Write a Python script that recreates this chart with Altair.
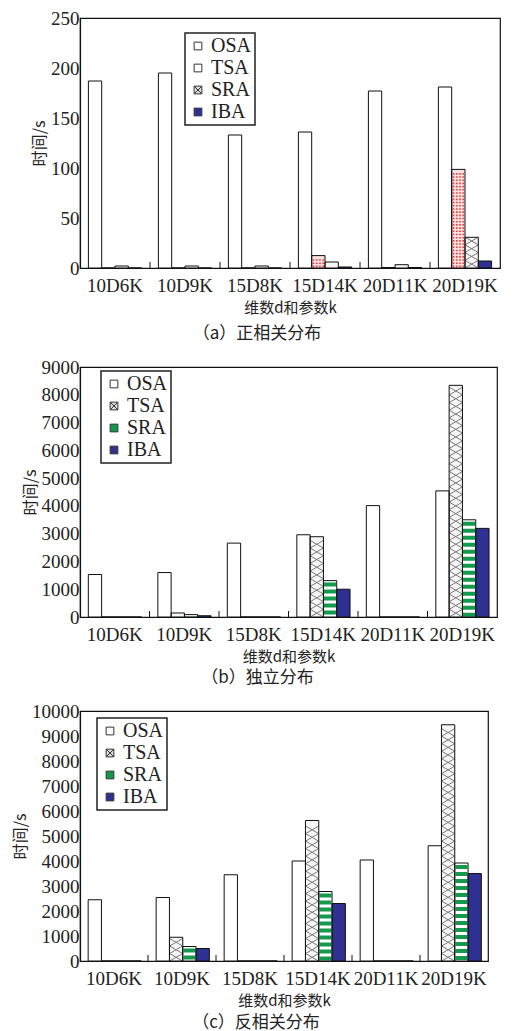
import altair as alt
import pandas as pd

categories = ["10D6K", "10D9K", "15D8K", "15D14K", "20D11K", "20D19K"]
algorithms = ["OSA", "TSA", "SRA", "IBA"]

# (a) 正相关分布
a_osa = [187, 195, 133, 136, 177, 181]
a_tsa = [0, 0, 0, 12.4, 0.5, 98.6]
a_sra = [2, 2, 2, 6, 3.3, 30.7]
a_iba = [0, 0, 0, 1, 0.5, 7]

# (b) 独立分布
b_osa = [1530, 1600, 2660, 2960, 4010, 4540]
b_tsa = [0, 145, 0, 2890, 0, 8340]
b_sra = [0, 85, 0, 1310, 0, 3500]
b_iba = [0, 45, 0, 1000, 0, 3190]

# (c) 反相关分布
c_osa = [2450, 2540, 3450, 4000, 4040, 4610]
c_tsa = [0, 950, 0, 5620, 0, 9450]
c_sra = [0, 580, 0, 2780, 0, 3920]
c_iba = [0, 500, 0, 2300, 0, 3500]

LATIN = "Liberation Serif"
CJK = "Noto Sans CJK SC"
TEXT = "#222222"
BLUE = "#2e3192"
GREEN = "#119a4a"
PINK = "#fde0e0"
RED = "#f03a3a"
HATCH = "#7a7a7a"
PI = 0.24
H = 250

HATCH_SYM = "M-1,-1H1V1H-1ZM-1,-1L1,1M-1,1L1,-1"
HATCH_PATH = "M-1,-0.58L1,0.58M-1,0.58L1,-0.58"
DOT_PATH = " ".join(
    f"M{cx - 0.12:.2f},-0.12h0.24v0.24h-0.24z" for cx in (-0.72, -0.24, 0.24, 0.72)
)


def table(osa, tsa, sra, iba):
    rows = []
    for name, series in zip(algorithms, [osa, tsa, sra, iba]):
        for c, v in zip(categories, series):
            rows.append({"cat": c, "alg": name, "value": v})
    return pd.DataFrame(rows)


def pick(fills):
    m = dict(zip(algorithms, fills))
    return (
        f"datum.alg === 'TSA' ? '{m['TSA']}' : datum.alg === 'SRA' ? '{m['SRA']}' : "
        f"datum.alg === 'IBA' ? '{m['IBA']}' : '{m['OSA']}'"
    )


def panel(df, ymax, ystep, width, caption, cap_dx, cap_offset, base_fill, leg_fill,
          leg_shape, lx, ly, hatch_alg=None, stripe_alg=None, dots_alg=None):
    step = width / 6
    sbw = step * (1 - PI) / 4
    xscale = alt.Scale(paddingInner=PI, paddingOuter=PI / 2)
    xaxis = alt.Axis(title="维数d和参数k", labelAngle=0, ticks=False, grid=False,
                     labelFont=LATIN, labelFontSize=19, labelColor=TEXT, labelPadding=8,
                     titleFont=CJK, titleFontSize=15, titleFontWeight="normal",
                     titleColor=TEXT, titlePadding=5)
    yscale = alt.Scale(domain=[0, ymax], nice=False, zero=True)
    yaxis = alt.Axis(title="时间/s", values=list(range(0, ymax + 1, ystep)), format="d",
                     ticks=False, grid=False, labelFont=LATIN, labelFontSize=19,
                     labelColor=TEXT, labelPadding=1, titleFont=CJK, titleFontSize=16,
                     titleFontWeight="normal", titleColor=TEXT, titlePadding=3)

    def X(**kw):
        return alt.X("cat:N", sort=categories, scale=xscale, axis=xaxis, **kw)

    def Y(field="value"):
        return alt.Y(f"{field}:Q", scale=yscale, axis=yaxis)

    xo = alt.XOffset("alg:N", sort=algorithms,
                     scale=alt.Scale(domain=algorithms, paddingInner=0, paddingOuter=0))
    base = alt.Chart(df)

    legend = alt.Legend(
        title=None, orient="none", legendX=lx, legendY=ly, direction="vertical",
        labelFont=LATIN, labelFontSize=20, labelColor=TEXT, labelOffset=3,
        symbolSize=60, rowPadding=2, padding=3, symbolStrokeWidth=1,
        symbolOpacity=1, fillColor="white",
    )

    layers = [
        # legend carrier, hidden beneath the bars
        base.transform_filter(f"datum.value > {ymax * 0.2}")
        .transform_calculate(mid="datum.value / 2")
        .mark_point(filled=True, size=20, opacity=1, strokeWidth=1)
        .encode(
            x=X(), xOffset=xo, y=Y("mid"),
            fill=alt.Fill("alg:N", sort=algorithms,
                          scale=alt.Scale(domain=algorithms, range=leg_fill),
                          legend=legend),
            stroke=alt.Stroke("alg:N", sort=algorithms,
                              scale=alt.Scale(domain=algorithms, range=["#333333"] * 4),
                              legend=legend),
            shape=alt.Shape("alg:N", sort=algorithms,
                            scale=alt.Scale(domain=algorithms, range=leg_shape),
                            legend=legend),
        ),
        base.transform_calculate(fc=pick(base_fill))
        .mark_bar(strokeWidth=0)
        .encode(x=X(), xOffset=xo, y=Y(), color=alt.Color("fc:N", scale=None)),
    ]
    if dots_alg:
        du = sbw * 0.24 * ymax / H
        layers.append(
            base.transform_filter(f"datum.alg === '{dots_alg}' && datum.value > {du}")
            .transform_calculate(yy=f"sequence({du / 2}, datum.value - {du / 2}, {du})")
            .transform_flatten(["yy"])
            .mark_point(shape=DOT_PATH, size=sbw ** 2, filled=True, fill=RED,
                        strokeWidth=0, opacity=1)
            .encode(x=X(), xOffset=xo, y=Y("yy"))
        )
    if hatch_alg:
        hu = 0.58 * sbw * ymax / H
        layers.append(
            base.transform_filter(f"datum.alg === '{hatch_alg}' && datum.value > {hu * 0.8}")
            .transform_calculate(yy=f"sequence({hu / 2}, datum.value - {hu * 0.45}, {hu})")
            .transform_flatten(["yy"])
            .mark_point(shape=HATCH_PATH, size=sbw ** 2, filled=False, stroke=HATCH,
                        strokeWidth=1, opacity=1)
            .encode(x=X(), xOffset=xo, y=Y("yy"))
        )
    if stripe_alg:
        layers.append(
            base.transform_filter(f"datum.alg === '{stripe_alg}' && datum.value > 0")
            .mark_rule(color=GREEN, strokeWidth=sbw - 1, strokeDash=[4, 3],
                       strokeDashOffset=5, strokeCap="butt")
            .encode(x=X(), xOffset=xo, y=Y(), y2=alt.datum(0))
        )
    layers.append(
        base.mark_bar(fillOpacity=0, stroke="#111111", strokeWidth=1).encode(
            x=X(), xOffset=xo, y=Y())
    )
    ticks_df = pd.DataFrame({"cat": categories[1:]})
    layers.append(
        alt.Chart(ticks_df).mark_rule(color="#111111", strokeWidth=1,
                                      xOffset=-PI * step / 2)
        .encode(x=X(bandPosition=0), y=alt.value(H), y2=alt.value(H - 6))
    )
    return alt.layer(*layers).properties(
        width=width, height=H,
        title=alt.TitleParams(caption, orient="bottom", font=CJK, fontSize=17,
                              fontWeight="normal", color=TEXT, anchor="middle",
                              frame="group", dx=cap_dx, offset=cap_offset),
    )


fill_a = ["#ffffff", PINK, "#f6f6f6", BLUE]
leg_fill_a = ["#ffffff", "#ffffff", "#dddddd", BLUE]
leg_shape_a = ["square", "square", HATCH_SYM, "square"]

fill_bc = ["#ffffff", "#f6f6f6", "#ffffff", BLUE]
leg_fill_bc = ["#ffffff", "#dddddd", GREEN, BLUE]
leg_shape_bc = ["square", HATCH_SYM, "square", "square"]

pa = panel(table(a_osa, a_tsa, a_sra, a_iba), 250, 50, 420, "（a）正相关分布", -33, 11,
           fill_a, leg_fill_a, leg_shape_a, 105, 15, hatch_alg="SRA", dots_alg="TSA")
pb = panel(table(b_osa, b_tsa, b_sra, b_iba), 9000, 1000, 417, "（b）独立分布", -31, 6,
           fill_bc, leg_fill_bc, leg_shape_bc, 21, 4, hatch_alg="TSA", stripe_alg="SRA")
pc = panel(table(c_osa, c_tsa, c_sra, c_iba), 10000, 1000, 408, "（c）反相关分布", -28, 7,
           fill_bc, leg_fill_bc, leg_shape_bc, 17, 7, hatch_alg="TSA", stripe_alg="SRA")

chart = (
    alt.vconcat(pa, pb, pc, spacing=14)
    .resolve_scale(fill="independent", shape="independent", color="independent",
                   stroke="independent")
    .resolve_legend(fill="independent", shape="independent", stroke="independent")
    .properties(padding={"left": 3, "top": 0, "right": 2, "bottom": 0})
    .configure_view(stroke="#111111", strokeWidth=1.2)
    .configure_axis(domainColor="#111111", domainWidth=1.2, labelFont=LATIN)
    .configure_legend(strokeColor="#222222", strokeWidth=1.5)
)

chart.save("out.html", embed_options={"renderer": "svg", "actions": False})
